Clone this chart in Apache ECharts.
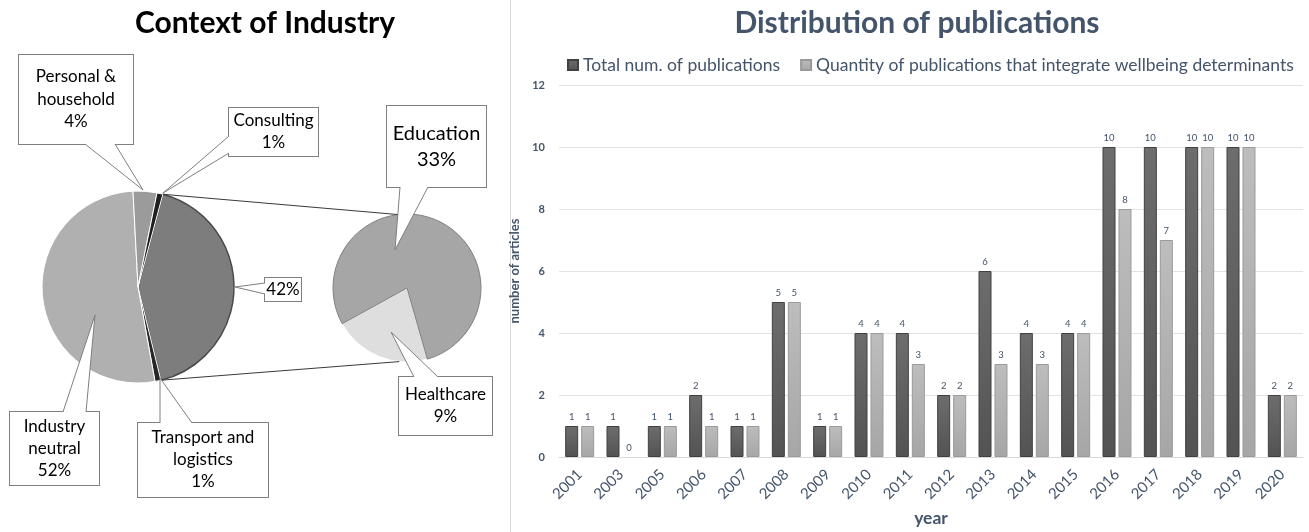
<!DOCTYPE html>
<html>
<head>
<meta charset="utf-8">
<script src="https://cdn.jsdelivr.net/npm/echarts@6/dist/echarts.min.js"></script>
<style>
html,body{margin:0;padding:0;background:#fff;}
#chart{width:1309px;height:532px;}
</style>
</head>
<body>
<div id="chart"></div>
<script>
// ---------- DATA ----------
const pieTitle = 'Context of Industry';
const mainLabels = ['', 'Transport and\nlogistics', 'Industry\nneutral', 'Personal &\nhousehold', 'Consulting'];
const mainValues = [42, 1, 52, 4, 1];
const subLabels = ['Healthcare', 'Education'];
const subValues = [9, 33];

const barTitle = 'Distribution of publications';
const years = ['2001','2003','2005','2006','2007','2008','2009','2010','2011','2012','2013','2014','2015','2016','2017','2018','2019','2020'];
const totalPubs = [1,1,1,2,1,5,1,4,4,2,6,4,4,10,10,10,10,2];
const wellbeingPubs = [1,0,1,1,1,5,1,4,3,2,3,3,4,8,7,10,10,2];
const seriesNames = ['Total num. of publications', 'Quantity of publications that integrate wellbeing determinants'];
const yTicks = {min: 0, max: 12, interval: 2};

// ---------- LAYOUT (not data) ----------
const FONT = 'Lato';
const slate = '#44546a';
const mainCenter = [138, 287], mainR = 96, mainStart = 75;
const subCenter = [407, 288], subR = 74, subStart = 286;
// label boxes: center x, center y, width, vertical padding, line height, font size
const mainBoxes = [
  {cx:283, cy:289.5, w:36, pv:1.5, lh:20, fs:17},
  {cx:203, cy:460, w:130, pv:4, lh:22, fs:17},
  {cx:54.5, cy:448.5, w:89, pv:3.5, lh:22, fs:17},
  {cx:76, cy:99.5, w:114, pv:10.75, lh:22.5, fs:17},
  {cx:273.5, cy:132, w:89, pv:2, lh:22, fs:17}
];
const subBoxes = [
  {cx:445.5, cy:406, w:93, pv:7, lh:22, fs:17},
  {cx:436.5, cy:146.5, w:99, pv:14.5, lh:26, fs:20}
];
// callout pointers: [base1, tip, base2]
const pointers = [
  [[265,283],[235,287],[265,294]],
  [[160,423],[160,378],[192,423]],
  [[63,412],[95,315],[86,412]],
  [[85,144],[143,190],[115,144]],
  [[229,136],[163,193],[229,153]],
  [[414,377],[391,332],[438,377]],
  [[400,187],[395,250],[428,187]]
];

const mainColors = ['#7d7d7d', '#262626', '#b0b0b0', '#9b9b9b', '#1f1f1f'];
const mainBorders = ['#4a4a4a', '#ffffff', '#ffffff', '#ffffff', '#ffffff'];
const subColors = ['#dedede', '#a6a6a6'];
const subBorders = ['#ffffff', '#808080'];

function boxLabel(b) {
  return {
    show: true, position: 'outside', fontFamily: FONT, fontSize: b.fs, lineHeight: b.lh,
    color: '#000', backgroundColor: '#fff', borderColor: '#7f7f7f', borderWidth: 1,
    width: b.w, padding: [b.pv, 0], align: 'center', overflow: 'none'
  };
}

const mainData = mainValues.map((v, i) => ({
  value: v, name: mainLabels[i] || 'Education & Healthcare',
  itemStyle: {color: mainColors[i], borderColor: mainBorders[i], borderWidth: i === 0 ? 1.5 : 1},
  label: Object.assign(boxLabel(mainBoxes[i]), {formatter: () => (mainLabels[i] ? mainLabels[i] + '\n' : '') + v + '%'})
}));
const subData = subValues.map((v, i) => ({
  value: v, name: subLabels[i],
  itemStyle: {color: subColors[i], borderColor: subBorders[i], borderWidth: 1},
  label: Object.assign(boxLabel(subBoxes[i]), {formatter: () => subLabels[i] + '\n' + v + '%'})
}));

// connector lines computed from the main pie geometry
const rad = d => d * Math.PI / 180;
const sumMain = mainValues.reduce((a, b) => a + b, 0);
const a0 = mainStart, a1 = mainStart - mainValues[0] / sumMain * 360;
const pt = (c, r, a) => [c[0] + r * Math.cos(rad(a)), c[1] - r * Math.sin(rad(a))];
const conn1 = [pt(mainCenter, mainR, a0), pt(subCenter, subR, 97)];
const conn2 = [pt(mainCenter, mainR, a1), pt(subCenter, subR, 264)];

const graphics = [
  {type: 'rect', shape: {x: 510, y: 0, width: 1, height: 532}, style: {fill: '#d9d9d9'}, z: 0},
  {type: 'line', shape: {x1: conn1[0][0], y1: conn1[0][1], x2: conn1[1][0], y2: conn1[1][1]}, style: {stroke: '#3a3a3a', lineWidth: 1}, z: 10},
  {type: 'line', shape: {x1: conn2[0][0], y1: conn2[0][1], x2: conn2[1][0], y2: conn2[1][1]}, style: {stroke: '#3a3a3a', lineWidth: 1}, z: 10}
];
pointers.forEach(p => {
  graphics.push({type: 'polygon', shape: {points: p}, style: {fill: '#fff', stroke: null}, z: 11});
  graphics.push({type: 'polyline', shape: {points: p}, style: {stroke: '#7f7f7f', lineWidth: 1, fill: null}, z: 12});
});

function grad(top, bottom) {
  return new echarts.graphic.LinearGradient(0, 0, 0, 1, [{offset: 0, color: top}, {offset: 1, color: bottom}]);
}
// zero-height bars get no outline
const barItems = vals => vals.map(v => v === 0 ? {value: v, itemStyle: {borderWidth: 0}} : v);

const chart = echarts.init(document.getElementById('chart'), null, {renderer: 'canvas'});
const option = {
  backgroundColor: '#fff',
  animation: false,
  textStyle: {fontFamily: FONT},
  title: [
    {text: pieTitle, left: 260, top: 3, textAlign: 'center',
     textStyle: {fontFamily: FONT, fontSize: 30, fontWeight: 'bold', color: '#000'}},
    {text: barTitle, left: 912, top: 3, textAlign: 'center',
     textStyle: {fontFamily: FONT, fontSize: 30, fontWeight: 'bold', color: slate}}
  ],
  legend: {
    data: seriesNames, left: 562, top: 51, itemWidth: 10, itemHeight: 10, itemGap: 20, icon: 'rect',
    textStyle: {fontFamily: FONT, fontSize: 17.5, color: slate}
  },
  grid: {left: 559, right: 6, top: 85, bottom: 75, containLabel: false, outerBoundsMode: 'none'},
  xAxis: {
    type: 'category', data: years,
    name: 'year', nameLocation: 'middle', nameGap: 50,
    nameTextStyle: {fontFamily: FONT, fontSize: 17.5, fontWeight: 'bold', color: slate},
    axisLine: {lineStyle: {color: '#d9d9d9'}}, axisTick: {show: false},
    axisLabel: {rotate: 45, fontSize: 15, color: slate, margin: 15, interval: 0}
  },
  yAxis: {
    type: 'value', min: yTicks.min, max: yTicks.max, interval: yTicks.interval,
    name: 'number of articles', nameLocation: 'middle', nameGap: 32,
    nameTextStyle: {fontFamily: FONT, fontSize: 13, fontWeight: 'bold', color: slate},
    axisLine: {show: false}, axisTick: {show: false},
    axisLabel: {fontSize: 11, fontWeight: 'bold', color: slate, margin: 14},
    splitLine: {lineStyle: {color: '#e0e3e8', width: 1}}
  },
  graphic: graphics,
  series: [
    {
      type: 'bar', name: seriesNames[0], data: barItems(totalPubs), barWidth: 13, barGap: '23%',
      itemStyle: {color: grad('#6d6d6d', '#535353'), borderColor: '#404040', borderWidth: 1},
      label: {show: true, position: 'top', distance: 4, fontSize: 9.5, color: slate}
    },
    {
      type: 'bar', name: seriesNames[1], data: barItems(wellbeingPubs), barWidth: 13,
      itemStyle: {color: grad('#bdbdbd', '#a6a6a6'), borderColor: '#9a9a9a', borderWidth: 1},
      label: {show: true, position: 'top', distance: 4, fontSize: 9.5, color: slate}
    },
    {
      type: 'pie', name: 'main', center: mainCenter, radius: mainR, startAngle: mainStart, clockwise: true,
      avoidLabelOverlap: false, z: 1, data: mainData, labelLine: {show: false},
      emphasis: {disabled: true},
      labelLayout: p => ({x: mainBoxes[p.dataIndex].cx, y: mainBoxes[p.dataIndex].cy, align: 'center', verticalAlign: 'middle'})
    },
    {
      type: 'pie', name: 'sub', center: subCenter, radius: subR, startAngle: subStart, clockwise: true,
      avoidLabelOverlap: false, z: 1, data: subData, labelLine: {show: false},
      emphasis: {disabled: true},
      labelLayout: p => ({x: subBoxes[p.dataIndex].cx, y: subBoxes[p.dataIndex].cy, align: 'center', verticalAlign: 'middle'})
    }
  ]
};
chart.setOption(option);
</script>
</body>
</html>
